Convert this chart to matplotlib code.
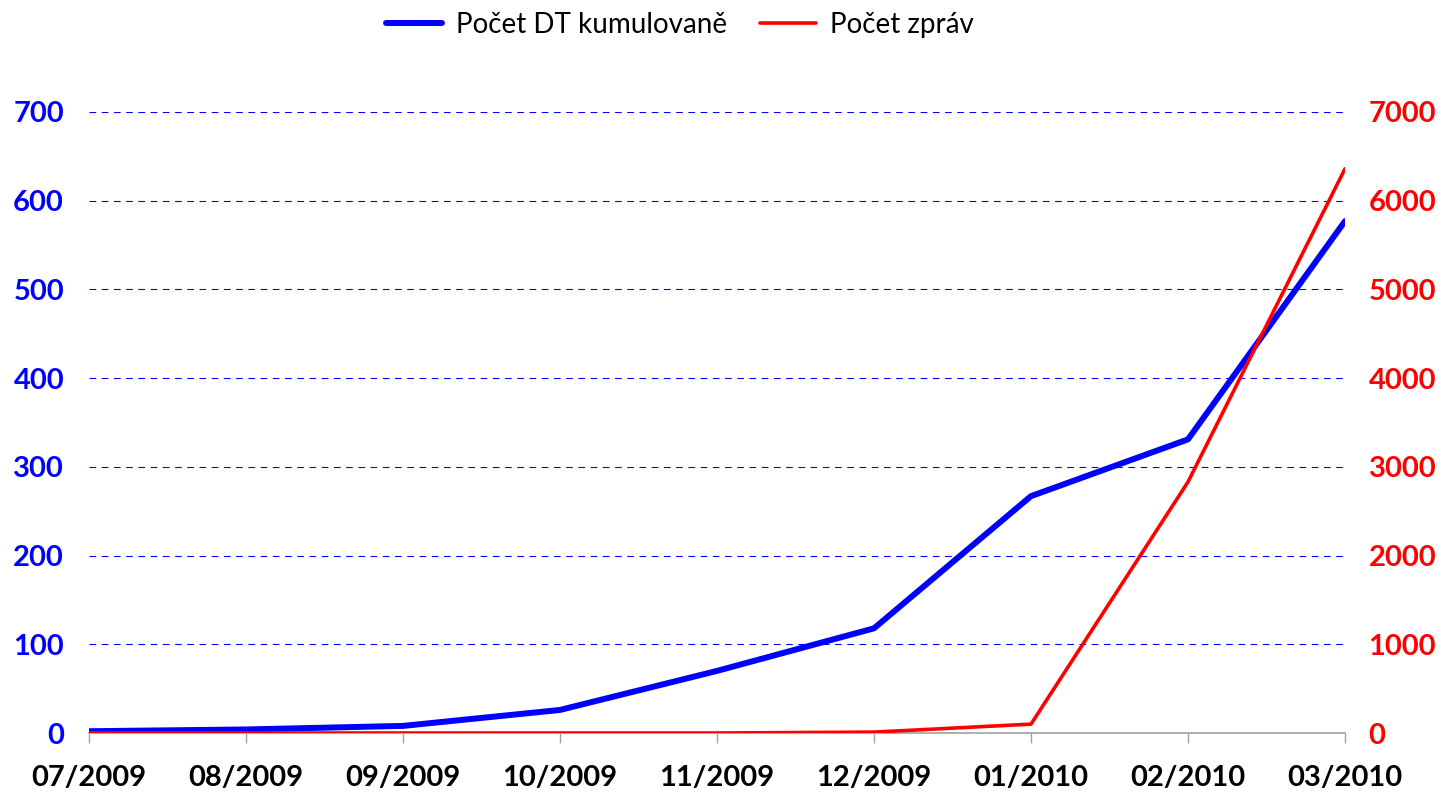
import matplotlib.pyplot as plt
from matplotlib.lines import Line2D

plt.rcParams['font.family'] = ['Lato', 'DejaVu Sans']

months = ['07/2009', '08/2009', '09/2009', '10/2009', '11/2009',
          '12/2009', '01/2010', '02/2010', '03/2010']
dt_cumulative = [2, 4, 8, 26, 70, 118, 267, 331, 577]
messages = [0, 0, 0, 0, 0, 10, 100, 2830, 6360]

blue = '#0000FF'
red = '#FF0000'

fig = plt.figure(figsize=(14.43, 8.02), dpi=100)
ax1 = fig.add_axes([89 / 1443, 1 - 733 / 802, (1345 - 89) / 1443, (733 - 112) / 802])
ax2 = ax1.twinx()

x = list(range(len(months)))
ax1.plot(x, dt_cumulative, color=blue, lw=4.3, solid_capstyle='round', zorder=3)
ax2.plot(x, messages, color=red, lw=2.6, solid_capstyle='round', zorder=3)

ax1.set_xlim(0, len(months) - 1)
ax1.set_ylim(0, 700)
ax2.set_ylim(0, 7000)
ax1.set_yticks(range(0, 701, 100))
ax2.set_yticks(range(0, 7001, 1000))

# dashed blue gridlines (none at zero)
for yv in range(100, 701, 100):
    ax1.axhline(yv, color=blue, lw=0.8, ls=(0, (6, 5)), zorder=1)

ax1.set_xticks(x)
ax1.set_xticklabels(months, fontsize=21, fontweight='bold', color='black')
ax1.tick_params(axis='x', direction='out', length=7, width=1, color='#A0A0A0', pad=16)
ax1.tick_params(axis='y', length=0, pad=18, labelsize=21, labelcolor=blue)
ax2.tick_params(axis='y', length=0, pad=17, labelsize=21, labelcolor=red)
for lab in ax1.get_yticklabels() + ax2.get_yticklabels():
    lab.set_fontweight('bold')

for a in (ax1, ax2):
    for s in ('top', 'left', 'right'):
        a.spines[s].set_visible(False)
ax1.spines['bottom'].set_color('#A0A0A0')
ax1.spines['bottom'].set_linewidth(1.2)
ax2.spines['bottom'].set_visible(False)

handles = [Line2D([], [], color=blue, lw=4.3, solid_capstyle='round'),
           Line2D([], [], color=red, lw=2.6, solid_capstyle='round')]
fig.legend(handles, ['Počet DT kumulovaně', 'Počet zpráv'], loc='center',
           bbox_to_anchor=(680 / 1443, 1 - 25 / 802), ncol=2, frameon=False,
           fontsize=20, handlelength=2.0, columnspacing=1.2, handletextpad=0.5)

fig.savefig('out.png', dpi=100)
